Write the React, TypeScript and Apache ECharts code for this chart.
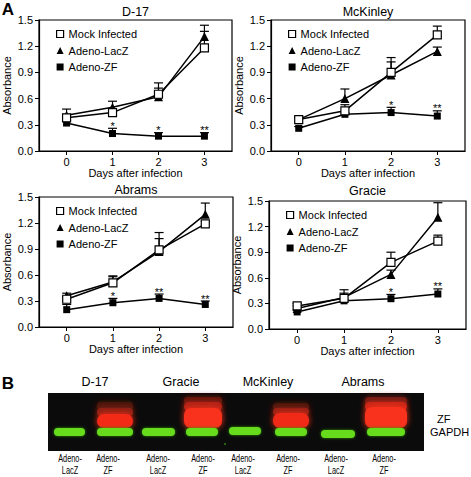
import React, { useEffect, useRef } from "react";
import * as echarts from "echarts";

// ---------- data ----------
const days = [0, 1, 2, 3];
const seriesNames = ["Mock Infected", "Adeno-LacZ", "Adeno-ZF"];

const d17Mock = [0.38, 0.44, 0.65, 1.18];
const d17MockErr = [0.04, 0.03, 0.13, 0.19];
const d17LacZ = [0.41, 0.5, 0.62, 1.31];
const d17LacZErr = [0.07, 0.07, 0.1, 0.13];
const d17ZF = [0.32, 0.2, 0.17, 0.17];
const d17ZFErr = [0.03, 0.06, 0.04, 0.04];
const d17Stars = ["", "*", "*", "**"];

const mckMock = [0.36, 0.46, 0.9, 1.33];
const mckMockErr = [0.03, 0.07, 0.17, 0.1];
const mckLacZ = [0.36, 0.6, 0.87, 1.14];
const mckLacZErr = [0.03, 0.11, 0.15, 0.05];
const mckZF = [0.26, 0.42, 0.44, 0.4];
const mckZFErr = [0.02, 0.02, 0.06, 0.06];
const mckStars = ["", "", "*", "**"];

const abrMock = [0.32, 0.51, 0.89, 1.19];
const abrMockErr = [0.03, 0.07, 0.2, 0.03];
const abrLacZ = [0.36, 0.52, 0.87, 1.3];
const abrLacZErr = [0.03, 0.07, 0.15, 0.13];
const abrZF = [0.2, 0.28, 0.33, 0.26];
const abrZFErr = [0.06, 0.05, 0.05, 0.04];
const abrStars = ["", "*", "**", "**"];

const graMock = [0.27, 0.36, 0.78, 1.03];
const graMockErr = [0.03, 0.1, 0.12, 0.07];
const graLacZ = [0.24, 0.37, 0.64, 1.31];
const graLacZErr = [0.03, 0.05, 0.05, 0.17];
const graZF = [0.2, 0.33, 0.355, 0.41];
const graZFErr = [0.02, 0.02, 0.05, 0.06];
const graStars = ["", "", "*", "**"];

const panelTitles = ["D-17", "McKinley", "Abrams", "Gracie"];
const blotCellLines = ["D-17", "Gracie", "McKinley", "Abrams"];
const laneTop = ["Adeno-", "Adeno-", "Adeno-", "Adeno-", "Adeno-", "Adeno-", "Adeno-", "Adeno-"];
const laneBottom = ["LacZ", "ZF", "LacZ", "ZF", "LacZ", "ZF", "LacZ", "ZF"];
const bandLabels = ["ZF", "GAPDH"];

// ---------- layout ----------
const FONT = "'Liberation Sans', Arial, Helvetica, sans-serif";
const grids = [
  { left: 39, top: 20, width: 193, height: 131 },
  { left: 271, top: 20, width: 194, height: 131 },
  { left: 39, top: 197, width: 194, height: 130 },
  { left: 269, top: 201, width: 197, height: 128 },
];
const titleY = [12, 12, 190, 191];
const blotCellPos = [95, 181, 268, 363];
const laneLabelX = [70, 108, 158, 203, 243, 288, 336, 384];
const greenBands = [
  [54, 85, 432],
  [97, 133, 432],
  [142, 175, 432],
  [186, 218, 432],
  [229, 261, 431],
  [275, 307, 432],
  [321, 355, 434],
  [367, 405, 432],
];
const redBands = [
  { x0: 97, x1: 133, layers: [[402, 8, "#4a140e"], [408, 8, "#8e2016"], [414, 14, "#f22c18"]] },
  { x0: 184, x1: 222, layers: [[397, 7, "#5e1610"], [402, 9, "#b02216"], [408, 20, "#f8301a"]] },
  { x0: 273, x1: 309, layers: [[403, 7, "#4a140e"], [408, 7, "#962218"], [413, 15, "#f02c18"]] },
  { x0: 365, x1: 407, layers: [[397, 8, "#6e1a12"], [402, 9, "#c82818"], [407, 21, "#f8301a"]] },
];

const panels = [
  { mock: d17Mock, mockErr: d17MockErr, lacz: d17LacZ, laczErr: d17LacZErr, zf: d17ZF, zfErr: d17ZFErr, stars: d17Stars },
  { mock: mckMock, mockErr: mckMockErr, lacz: mckLacZ, laczErr: mckLacZErr, zf: mckZF, zfErr: mckZFErr, stars: mckStars },
  { mock: abrMock, mockErr: abrMockErr, lacz: abrLacZ, laczErr: abrLacZErr, zf: abrZF, zfErr: abrZFErr, stars: abrStars },
  { mock: graMock, mockErr: graMockErr, lacz: graLacZ, laczErr: graLacZErr, zf: graZF, zfErr: graZFErr, stars: graStars },
];

function errSeries(i: number, vals: number[], errs: number[]) {
  return {
    type: "custom",
    xAxisIndex: i,
    yAxisIndex: i,
    z: 1,
    silent: true,
    data: days.map((d, j) => [d, vals[j], errs[j]]),
    encode: { x: 0, y: 1 },
    renderItem: (params: any, api: any) => {
      const x = api.value(0);
      const y = api.value(1);
      const e = api.value(2);
      const p0 = api.coord([x, y]);
      const p1 = api.coord([x, y + e]);
      return {
        type: "group",
        children: [
          { type: "line", shape: { x1: p0[0], y1: p0[1], x2: p1[0], y2: p1[1] }, style: { stroke: "#000", lineWidth: 1.2 } },
          { type: "line", shape: { x1: p1[0] - 4.5, y1: p1[1], x2: p1[0] + 4.5, y2: p1[1] }, style: { stroke: "#000", lineWidth: 1.2 } },
        ],
      };
    },
  };
}

function starSeries(i: number, vals: number[], errs: number[], stars: string[]) {
  return {
    type: "custom",
    xAxisIndex: i,
    yAxisIndex: i,
    z: 5,
    silent: true,
    data: days.map((d, j) => [d, vals[j] + errs[j], j]),
    encode: { x: 0, y: 1 },
    renderItem: (params: any, api: any) => {
      const p = api.coord([api.value(0), api.value(1)]);
      const s = stars[api.value(2)];
      return {
        type: "text",
        x: p[0],
        y: p[1] + 3,
        style: {
          text: s,
          fill: "#000",
          align: "center",
          verticalAlign: "bottom",
          fontSize: 11,
          fontFamily: FONT,
          fontWeight: "normal",
        },
      };
    },
  };
}

function buildOption() {
  const xAxis: any[] = [];
  const yAxis: any[] = [];
  const series: any[] = [];
  const legend: any[] = [];
  const graphic: any[] = [];

  grids.forEach((g, i) => {
    const p = panels[i];
    xAxis.push({
      type: "value",
      gridIndex: i,
      min: -0.6,
      max: 3.6,
      name: "Days after infection",
      nameLocation: "middle",
      nameGap: 15,
      nameTextStyle: { fontSize: 11, color: "#000", fontFamily: FONT },
      axisLine: { show: true, onZero: false, lineStyle: { color: "#000", width: 1.2 } },
      axisTick: { show: true, customValues: days, length: 4, lineStyle: { color: "#000", width: 1 } },
      axisLabel: { customValues: days, fontSize: 11, color: "#000", margin: 5, fontFamily: FONT },
      splitLine: { show: false },
    });
    yAxis.push({
      type: "value",
      gridIndex: i,
      min: 0,
      max: 1.5,
      interval: 0.3,
      name: "Absorbance",
      nameLocation: "middle",
      nameGap: 27,
      nameTextStyle: { fontSize: 11, color: "#000", fontFamily: FONT },
      axisLine: { show: true, onZero: false, lineStyle: { color: "#000", width: 1.2 } },
      axisTick: { show: true, length: 4, lineStyle: { color: "#000", width: 1 } },
      axisLabel: {
        fontSize: 11,
        color: "#000",
        margin: 6,
        fontFamily: FONT,
        formatter: (v: number) => v.toFixed(1),
      },
      splitLine: { show: false },
    });

    series.push(errSeries(i, p.lacz, p.laczErr));
    series.push(errSeries(i, p.mock, p.mockErr));
    series.push(errSeries(i, p.zf, p.zfErr));

    series.push({
      type: "line",
      name: seriesNames[1],
      xAxisIndex: i,
      yAxisIndex: i,
      z: 3,
      data: days.map((d, j) => [d, p.lacz[j]]),
      symbol: "triangle",
      symbolSize: 9,
      itemStyle: { color: "#000" },
      lineStyle: { color: "#000", width: 1.5 },
    });
    series.push({
      type: "line",
      name: seriesNames[2],
      xAxisIndex: i,
      yAxisIndex: i,
      z: 3,
      data: days.map((d, j) => [d, p.zf[j]]),
      symbol: "rect",
      symbolSize: 7,
      itemStyle: { color: "#000" },
      lineStyle: { color: "#000", width: 1.5 },
    });
    series.push({
      type: "line",
      name: seriesNames[0],
      xAxisIndex: i,
      yAxisIndex: i,
      z: 4,
      data: days.map((d, j) => [d, p.mock[j]]),
      symbol: "rect",
      symbolSize: 8,
      itemStyle: { color: "#fff", borderColor: "#000", borderWidth: 1.2 },
      lineStyle: { color: "#000", width: 1.5 },
    });
    series.push(starSeries(i, p.zf, p.zfErr, p.stars));

    legend.push({
      left: g.left + 17,
      top: g.top + 8,
      orient: "vertical",
      padding: 0,
      itemWidth: 7,
      itemHeight: 7,
      itemGap: 4.5,
      selectedMode: false,
      textStyle: { fontSize: 11, color: "#000", fontFamily: FONT, lineHeight: 12 },
      data: [
        { name: seriesNames[0], icon: "rect", itemStyle: { color: "#fff", borderColor: "#000", borderWidth: 1.2 } },
        { name: seriesNames[1], icon: "triangle", itemStyle: { color: "#000" } },
        { name: seriesNames[2], icon: "rect", itemStyle: { color: "#000" } },
      ],
    });

    graphic.push({
      type: "text",
      x: g.left + g.width / 2,
      y: titleY[i],
      style: {
        text: panelTitles[i],
        align: "center",
        verticalAlign: "middle",
        fontSize: 12.5,
        fontFamily: FONT,
        fontWeight: "normal",
        fill: "#000",
      },
    });
  });

  // panel letters
  graphic.push({ type: "text", x: 8, y: 9, style: { text: "A", align: "center", verticalAlign: "middle", fontSize: 17, fontWeight: "bold", fontFamily: FONT, fill: "#000" } });
  graphic.push({ type: "text", x: 8, y: 383, style: { text: "B", align: "center", verticalAlign: "middle", fontSize: 17, fontWeight: "bold", fontFamily: FONT, fill: "#000" } });

  // blot
  graphic.push({ type: "rect", shape: { x: 48, y: 393, width: 376, height: 58 }, style: { fill: "#0b0b0b" } });
  redBands.forEach((rb) => {
    rb.layers.forEach((ly: any) => {
      graphic.push({
        type: "rect",
        shape: { x: rb.x0, y: ly[0], width: rb.x1 - rb.x0, height: ly[1], r: Math.min(7, ly[1] / 2) },
        style: { fill: ly[2], shadowBlur: 6, shadowColor: ly[2] },
      });
    });
  });
  greenBands.forEach((gb) => {
    graphic.push({
      type: "rect",
      shape: { x: gb[0], y: gb[2] - 4, width: gb[1] - gb[0], height: 8, r: 4 },
      style: { fill: "#66dc1e", shadowBlur: 3, shadowColor: "#2f8f0a" },
    });
  });
  graphic.push({ type: "circle", shape: { cx: 225, cy: 444, r: 0.8 }, style: { fill: "#2f9a10" } });

  blotCellLines.forEach((t, k) => {
    graphic.push({
      type: "text",
      x: blotCellPos[k],
      y: 382,
      style: { text: t, align: "center", verticalAlign: "middle", fontSize: 12.5, fontFamily: FONT, fontWeight: "normal", fill: "#000" },
    });
  });
  laneTop.forEach((t, k) => {
    graphic.push({
      type: "text",
      x: laneLabelX[k],
      y: 459,
      scaleX: 0.7,
      style: { text: t, align: "center", verticalAlign: "middle", fontSize: 10.5, fontFamily: FONT, fill: "#000" },
    });
    graphic.push({
      type: "text",
      x: laneLabelX[k],
      y: 471,
      scaleX: 0.7,
      style: { text: laneBottom[k], align: "center", verticalAlign: "middle", fontSize: 10.5, fontFamily: FONT, fill: "#000" },
    });
  });
  graphic.push({ type: "text", x: 437, y: 419, style: { text: bandLabels[0], align: "left", verticalAlign: "middle", fontSize: 11, fontFamily: FONT, fill: "#000" } });
  graphic.push({ type: "text", x: 430, y: 432, style: { text: bandLabels[1], align: "left", verticalAlign: "middle", fontSize: 11, fontFamily: FONT, fill: "#000" } });

  return {
    animation: false,
    backgroundColor: "#fff",
    textStyle: { fontFamily: FONT },
    grid: grids.map((g) => ({ ...g, show: true, borderColor: "#000", borderWidth: 1.2, containLabel: false })),
    xAxis,
    yAxis,
    legend,
    series,
    graphic,
  };
}

export default function App() {
  const ref = useRef<HTMLDivElement>(null);
  useEffect(() => {
    if (!ref.current) return;
    const chart = echarts.init(ref.current, undefined, { renderer: "svg" });
    chart.setOption(buildOption() as any);
    return () => chart.dispose();
  }, []);
  return (
    <div
      ref={ref}
      style={{ position: "absolute", left: 0, top: 0, width: 471, height: 477, background: "#fff" }}
    />
  );
}
